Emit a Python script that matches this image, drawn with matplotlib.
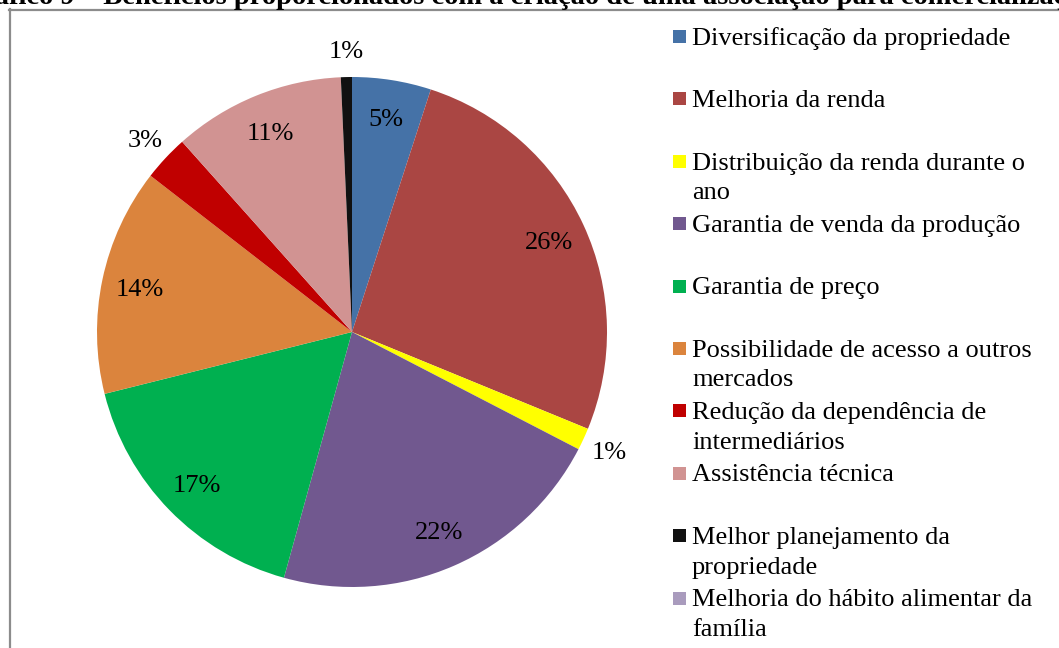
import numpy as np
import matplotlib.pyplot as plt
from matplotlib.patches import Rectangle
from matplotlib.lines import Line2D

# data (percent of answers)
categories = [
    "Diversificação da propriedade",
    "Melhoria da renda",
    "Distribuição da renda durante o\nano",
    "Garantia de venda da produção",
    "Garantia de preço",
    "Possibilidade de acesso a outros\nmercados",
    "Redução da dependência de\nintermediários",
    "Assistência técnica",
    "Melhor planejamento da\npropriedade",
    "Melhoria do hábito alimentar da\nfamília",
]
values = [5.0, 26.2, 1.4, 21.7, 16.8, 14.4, 2.9, 10.9, 0.7, 0.0]
pct_labels = ["5%", "26%", "1%", "22%", "17%", "14%", "3%", "11%", "1%", ""]
colors = ["#4572A7", "#AA4643", "#FFFF00", "#71588F", "#00B050",
          "#DB843D", "#C00000", "#D19392", "#111111", "#A99BBD"]

title = ("Gráfico 9 – Benefícios proporcionados com a criação de uma "
         "associação para comercialização")

W, H = 1059, 648
fig = plt.figure(figsize=(W / 100, H / 100), dpi=100)
serif = "Liberation Serif"


def fx(px):
    return px / W


def fy(py):
    return 1 - py / H


# pie, centre (352, 332) px, radius 255 px
cx, cy, r = 352, 332, 255
ax = fig.add_axes([fx(cx - r), fy(cy + r), 2 * r / W, 2 * r / H])
ax.pie(values, colors=colors, startangle=90, counterclock=False, radius=1,
       wedgeprops=dict(linewidth=0))
ax.set_xlim(-1, 1)
ax.set_ylim(-1, 1)
ax.set_aspect("auto")
ax.axis("off")

total = sum(values)
cum = 0
for v, lab in zip(values, pct_labels):
    mid = np.deg2rad(90 - 360 * (cum + v / 2) / total)
    cum += v
    if not lab:
        continue
    d = 1.11 if v < 4 else 0.85
    ax.text(d * np.cos(mid), d * np.sin(mid), lab, ha="center",
            va="center_baseline", fontsize=19, family=serif, color="black")

# title (cut off at the top of the picture)
fig.text(fx(-40), fy(3.5), title, ha="left", va="baseline", fontsize=20.5,
         fontweight="bold", family=serif, color="black")

# frame of the chart area
fig.add_artist(Line2D([fx(9.5), fx(9.5)], [fy(9), fy(H + 5)],
                      transform=fig.transFigure, color="#8c8c8c", lw=1.6))
fig.add_artist(Line2D([fx(9), fx(W + 5)], [fy(9.5), fy(9.5)],
                      transform=fig.transFigure, color="#8c8c8c", lw=1.6))

# legend
line_step = 30
for i, (cat, col) in enumerate(zip(categories, colors)):
    yc = 36.5 + 62.4 * i
    extra = cat.count("\n") * line_step
    fig.add_artist(Rectangle((fx(673), fy(yc + 6.5)), 13 / W, 13 / H,
                             transform=fig.transFigure, color=col, lw=0))
    fig.text(fx(692), fy(yc + 8 + extra), cat, ha="left", va="baseline",
             fontsize=19, family=serif, color="black", linespacing=1.45)

fig.savefig("out.png", dpi=100)
